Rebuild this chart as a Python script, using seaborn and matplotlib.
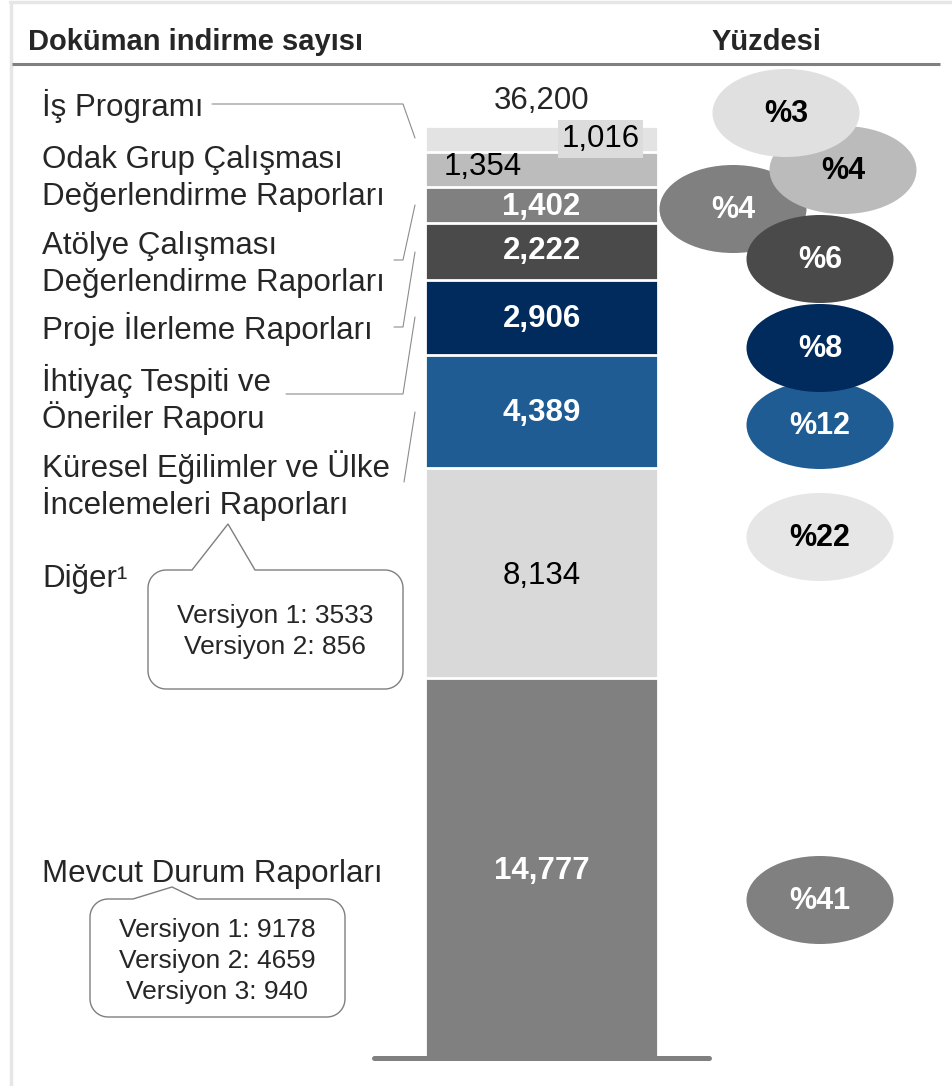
import numpy as np
import matplotlib.pyplot as plt
import seaborn as sns
from matplotlib.patches import Ellipse, Polygon

# data, bottom segment first
categories = [
    "Mevcut Durum Raporları",
    "Diğer¹",
    "Küresel Eğilimler ve Ülke\nİncelemeleri Raporları",
    "İhtiyaç Tespiti ve\nÖneriler Raporu",
    "Proje İlerleme Raporları",
    "Atölye Çalışması\nDeğerlendirme Raporları",
    "Odak Grup Çalışması\nDeğerlendirme Raporları",
    "İş Programı",
]
downloads = [14777, 8134, 4389, 2906, 2222, 1402, 1354, 1016]
seg_colors = ["#808080", "#d9d9d9", "#1f5c93", "#002b5c", "#4a4a4a", "#808080", "#bcbcbc", "#e3e3e3"]
pct_colors = ["#808080", "#e6e6e6", "#1f5c93", "#002b5c", "#4a4a4a", "#808080", "#bbbbbb", "#e0e0e0"]
diger_versions = [3533, 856]
mevcut_versions = [9178, 4659, 940]

sns.set_style("white")
plt.rcParams["font.family"] = ["Liberation Sans", "DejaVu Sans"]

W, H = 952, 1086
fig = plt.figure(figsize=(W / 100, H / 100), dpi=100)

# bar axes (pixel box 374..709 x, 126..1058 y)
ax = fig.add_axes([374 / W, 1 - 1058 / H, 335 / W, (1058 - 126) / H])
cum = np.cumsum(downloads)
total = cum[-1]
for c, col in zip(cum[::-1], seg_colors[::-1]):
    sns.barplot(x=["t"], y=[c], color=col, saturation=1, width=0.8,
                edgecolor="white", linewidth=2, errorbar=None, ax=ax)
ax.set_xlim(-0.575, 0.575)
ax.set_ylim(0, total)
ax.axhline(0, color="#808080", lw=3.6, solid_capstyle="round", clip_on=False, zorder=5)
ax.axis("off")

# value labels: (text colour, weight, dx px, dy px)
val_style = [
    ("white", "bold", 0, -3),
    ("black", "normal", 0, -3),
    ("white", "bold", 0, -1),
    ("white", "bold", 0, -1),
    ("white", "bold", 0, 1),
    ("white", "bold", 0, -2),
    ("black", "normal", -59, 3),
    ("black", "normal", 59, 0),
]
bottoms = cum - np.array(downloads)
for v, b, (tc, fw, dx, dy) in zip(downloads, bottoms, val_style):
    kw = {}
    if v == downloads[-1]:
        kw["bbox"] = dict(boxstyle="square,pad=0.12", fc="#dcdcdc", ec="none")
    ax.annotate(f"{v:,}", xy=(0, b + v / 2), xytext=(dx, dy), textcoords="offset pixels",
                ha="center", va="center", fontsize=22.5, color=tc, fontweight=fw,
                annotation_clip=False, zorder=6, **kw)
ax.annotate(f"{total:,}", xy=(0, total), xytext=(0, 25), textcoords="offset pixels",
            ha="center", va="center", fontsize=22.5, annotation_clip=False)

# overlay in pixel coordinates
ov = fig.add_axes([0, 0, 1, 1])
ov.set_xlim(0, W)
ov.set_ylim(H, 0)
ov.axis("off")
ov.patch.set_alpha(0)

# frame and header
ov.plot([10, W], [2, 2], color="#e6e6e6", lw=2.5)
ov.plot([11, 11], [2, H], color="#e6e6e6", lw=2.5)
ov.plot([12, 940], [64, 64], color="#808080", lw=2.2, solid_capstyle="butt")
ov.text(28, 50, "Doküman indirme sayısı", fontsize=21, fontweight="bold", va="baseline")
ov.text(712, 50, "Yüzdesi", fontsize=21, fontweight="bold", va="baseline")

# left labels (first-line baseline)
label_base = [882, 587, 477, 391, 339, 254, 168, 116]
for name, yb in zip(categories, label_base):
    for k, line in enumerate(name.split("\n")):
        ov.text(42, yb + 37 * k, line, fontsize=22.5, va="baseline")

# leader lines
leaders = [
    [(212, 104), (403, 104), (415, 138)],
    [(394, 260), (403, 260), (415, 205)],
    [(394, 327), (403, 327), (415, 252)],
    [(286, 394), (403, 394), (415, 317)],
    [(404, 482), (415, 412)],
]
for pts in leaders:
    xs, ys = zip(*pts)
    ov.plot(xs, ys, color="#8c8c8c", lw=0.8)

# percentage ellipses
ell_pos = [(820, 900, 5), (820, 537, 5), (820, 425, 5), (820, 348, 6),
           (820, 259, 6), (733, 209, 5), (843, 170, 7), (786, 113, 8)]
for v, col, (cx, cy, z) in zip(downloads, pct_colors, ell_pos):
    ov.add_patch(Ellipse((cx, cy), 147, 88, fc=col, ec="none", zorder=z))
    tc = "black" if col in ("#e6e6e6", "#bbbbbb", "#e0e0e0") else "white"
    ov.text(cx, cy + 1, f"%{round(v / total * 100)}", ha="center", va="center",
            fontsize=22, fontweight="bold", color=tc, zorder=z)


def callout(x0, y0, x1, y1, pointer, r=18):
    def arc(cx, cy, a0, a1):
        t = np.radians(np.linspace(a0, a1, 12))
        return list(zip(cx + r * np.cos(t), cy + r * np.sin(t)))
    pts = list(pointer)
    pts += arc(x1 - r, y0 + r, -90, 0)
    pts += arc(x1 - r, y1 - r, 0, 90)
    pts += arc(x0 + r, y1 - r, 90, 180)
    pts += arc(x0 + r, y0 + r, 180, 270)
    ov.add_patch(Polygon(pts, closed=True, fc="white", ec="#7f7f7f", lw=1.0, zorder=4))


callout(148, 570, 403, 689, [(192, 570), (228, 524), (255, 570)])
for k, v in enumerate(diger_versions):
    ov.text(275, 623 + 31 * k, f"Versiyon {k + 1}: {v}", ha="center", va="baseline",
            fontsize=19, zorder=5)

callout(90, 899, 345, 1017, [(133, 899), (172, 887), (197, 899)])
for k, v in enumerate(mevcut_versions):
    ov.text(217, 937 + 31 * k, f"Versiyon {k + 1}: {v}", ha="center", va="baseline",
            fontsize=19, zorder=5)

fig.savefig("out.png", dpi=100)
